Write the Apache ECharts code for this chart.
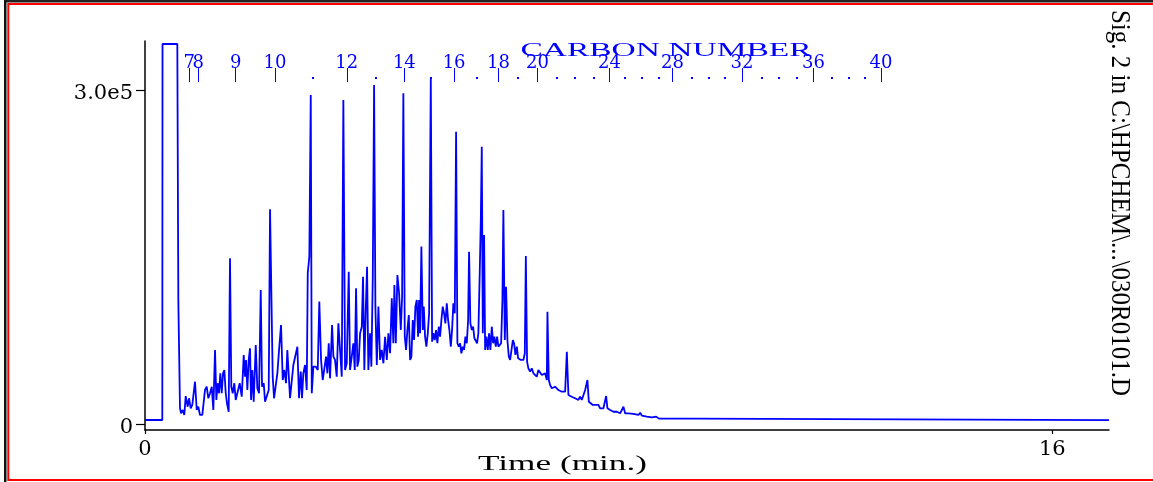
<!DOCTYPE html>
<html><head><meta charset="utf-8">
<script src="https://cdn.jsdelivr.net/npm/echarts@6/dist/echarts.min.js"></script>
<style>html,body{margin:0;padding:0;background:#fff}#c{width:1153px;height:482px}</style>
</head><body><div id="c"></div><script>
// Retention time (min)
const timeMin = [
  0, 0.305, 0.309, 0.570, 0.588, 0.617,
  0.635, 0.665, 0.693, 0.718, 0.753, 0.776, 0.806, 0.834, 0.882, 0.912,
  0.940, 0.970, 1.011, 1.058, 1.088, 1.117, 1.147, 1.177, 1.205, 1.235,
  1.258, 1.282, 1.305, 1.328, 1.353, 1.376, 1.399, 1.424, 1.446, 1.476,
  1.499, 1.522, 1.547, 1.575, 1.600, 1.635, 1.670, 1.706, 1.741, 1.764,
  1.782, 1.805, 1.829, 1.852, 1.870, 1.893, 1.917, 1.953, 1.981, 2.011,
  2.041, 2.064, 2.094, 2.117, 2.152, 2.182, 2.205,
  2.252, 2.276, 2.311, 2.334, 2.364, 2.399, 2.429, 2.457, 2.487, 2.510,
  2.535, 2.558, 2.593, 2.616, 2.651, 2.687, 2.716, 2.747, 2.769, 2.792,
  2.822, 2.852, 2.870, 2.898, 2.923, 2.941, 2.969, 3.011, 3.046, 3.074,
  3.105, 3.134, 3.163, 3.193, 3.216, 3.240, 3.263, 3.299, 3.322, 3.351,
  3.381, 3.410, 3.440, 3.470, 3.498, 3.528, 3.558, 3.593, 3.616, 3.646,
  3.674, 3.699, 3.722, 3.745, 3.770, 3.793, 3.823, 3.845, 3.868, 3.893,
  3.916, 3.939, 3.969, 3.992, 4.017, 4.040, 4.063, 4.088, 4.116, 4.146,
  4.175, 4.204, 4.234, 4.264, 4.292, 4.322, 4.352, 4.380, 4.398, 4.423,
  4.451, 4.481, 4.511, 4.534, 4.556,
  4.581, 4.604, 4.627, 4.652, 4.675, 4.698, 4.722, 4.745, 4.768, 4.793,
  4.816, 4.833, 4.851, 4.874, 4.899, 4.916, 4.939, 4.962, 4.987, 5.010,
  5.040, 5.063, 5.086, 5.110, 5.133, 5.156, 5.181, 5.204, 5.227, 5.251,
  5.274, 5.297, 5.322, 5.345, 5.368, 5.393, 5.415, 5.438, 5.463, 5.486,
  5.509, 5.534, 5.557, 5.579, 5.604, 5.627, 5.650, 5.675, 5.698, 5.715,
  5.738, 5.763, 5.786, 5.809, 5.834, 5.856, 5.879, 5.904, 5.922, 5.939,
  5.957, 5.980, 5.998, 6.021, 6.045, 6.068, 6.091, 6.116, 6.139, 6.161,
  6.186, 6.209, 6.232, 6.257, 6.280, 6.303, 6.320, 6.345, 6.368, 6.391,
  6.416, 6.439, 6.462, 6.487, 6.509, 6.532, 6.557, 6.580, 6.603, 6.628,
  6.650, 6.673, 6.698, 6.716, 6.738, 6.761, 6.791, 6.821, 6.850, 6.880,
  6.909, 6.937,
  6.968, 6.998, 7.026, 7.056, 7.086, 7.097, 7.121, 7.144, 7.174, 7.202,
  7.232, 7.262, 7.290, 7.321, 7.350, 7.379, 7.409, 7.439, 7.467, 7.497,
  7.527, 7.555, 7.585, 7.615, 7.643, 7.673, 7.703, 7.731, 7.762, 7.802,
  7.827, 7.862, 7.897, 7.938, 7.968, 7.996, 8.026, 8.056, 8.084, 8.114,
  8.132, 8.155, 8.203, 8.261, 8.321, 8.379, 8.409, 8.437, 8.467, 8.525,
  8.614, 8.702, 8.732, 8.762, 8.850, 8.938, 9.014, 9.037, 9.062, 9.702,
  9.732, 17.0
];
// Detector signal (thousands of counts)
const signalK = [
  3.6, 3.6, 341.3, 341.3, 109.9, 14.4,
  9.6, 12.6, 8.1, 25.1, 15.5, 23.1, 14.1, 17.1, 38.0, 12.6,
  15.5, 8.1, 8.1, 30.5, 33.5, 23.1, 27.6, 33.5, 12.6, 66.5,
  21.6, 36.6, 27.6, 45.5, 27.6, 45.5, 48.5, 27.6, 18.6, 11.0,
  148.8, 33.5, 27.6, 36.6, 21.6, 20.0, 36.6, 24.5, 62.0, 42.5,
  57.5, 30.5, 57.5, 68.0, 21.6, 48.5, 20.0, 71.0, 32.1, 27.6,
  120.4, 33.5, 36.6, 20.0, 21.6, 30.5, 192.8,
  42.5, 23.1, 23.1, 45.5, 66.5, 88.9, 39.5, 48.5, 36.6, 66.5,
  68.0, 23.1, 23.1, 53.0, 53.0, 69.4, 23.1, 47.0, 23.1, 45.5,
  53.0, 30.5, 135.4, 150.3, 295.5, 27.6, 51.5, 51.5, 48.5, 109.9,
  57.5, 39.5, 39.5, 60.5, 45.5, 72.5, 41.0, 88.9, 60.5, 57.5,
  42.5, 90.4, 91.9, 42.5, 291.0, 48.5, 54.5, 136.8, 48.5, 60.5,
  72.5, 48.5, 121.9, 51.5, 57.5, 81.5, 87.4, 132.3, 48.5, 102.4,
  141.3, 48.5, 81.5, 51.5, 132.3, 304.5, 105.4, 53.0, 105.4, 57.5,
  66.5, 54.5, 78.4, 57.5, 81.5, 63.5, 112.9, 72.5, 124.8, 72.5,
  133.8, 117.4, 84.4, 114.3, 297.0,
  78.4, 66.5, 84.4, 97.9, 57.5, 60.5, 93.4, 75.4, 105.4, 111.4,
  78.4, 111.4, 81.5, 159.3, 84.4, 105.4, 78.4, 69.4, 81.5, 99.4,
  310.5, 73.9, 81.5, 75.4, 84.4, 72.5, 87.4, 78.4, 93.4, 105.4,
  99.4, 90.4, 108.4, 93.4, 84.4, 69.4, 84.4, 108.4, 99.4, 262.5,
  72.5, 69.4, 72.5, 63.5, 69.4, 66.5, 78.4, 72.5, 93.4, 154.8,
  90.4, 84.4, 87.4, 77.0, 78.4, 72.5, 81.5, 138.3, 183.2, 249.1,
  81.5, 169.8, 66.5, 78.4, 66.5, 81.5, 66.5, 87.4, 72.5, 78.4,
  69.4, 78.4, 69.4, 69.4, 72.5, 111.4, 192.2, 75.4, 123.3, 75.4,
  60.5, 57.5, 56.0, 75.4, 72.5, 62.0, 69.4, 59.0, 57.5, 57.5,
  59.0, 57.5, 63.5, 150.9, 56.0, 50.0, 47.0, 50.0, 45.5, 47.0,
  42.5, 48.5,
  47.0, 44.0, 42.5, 45.5, 39.5, 100.9, 39.5, 35.0, 32.1, 30.5,
  33.5, 35.0, 30.5, 32.1, 29.0, 30.5, 29.0, 64.9, 26.0, 24.5,
  24.5, 26.0, 23.1, 24.5, 21.6, 24.5, 21.6, 23.1, 30.5, 39.5,
  20.0, 18.6, 17.1, 17.1, 15.5, 17.1, 14.1, 15.5, 14.1, 12.6,
  25.1, 14.1, 12.6, 11.0, 11.0, 9.6, 11.0, 15.5, 9.6, 9.6,
  9.0, 8.1, 10.1, 7.5, 6.6, 6.0, 6.6, 7.5, 4.8, 4.8,
  3.4, 3.4
];
// Carbon number marker scale (labelled)
const carbonNumbers = [7, 8, 9, 10, 12, 14, 16, 18, 20, 24, 28, 32, 36, 40];
const carbonTimes = [0.781, 0.940, 1.600, 2.293, 3.558, 4.574, 5.451, 6.232, 6.920, 8.190, 9.302, 10.526, 11.789, 12.978];
// Unlabelled carbon numbers (11,13,15,17,19,21-23,25-27,29-31,33-35,37-39)
const dotTimes = [2.951, 4.075, 5.040, 5.851, 6.574, 7.262, 7.585, 7.908, 8.467, 8.762, 9.055,
  9.644, 9.937, 10.231, 10.879, 11.171, 11.496, 12.113, 12.406, 12.701];
// Axis ticks
const yTicks = [0, 300];
const yTickLabels = ['0', '3.0e5'];
const xTicks = [0, 16];
const xTickLabels = ['0', '16'];

const seriesData = timeMin.map((t, i) => [t, signalK[i]]);
const BLUE = '#0000ff';
const tickFont = '"DejaVu Serif", "Liberation Serif", serif';
const carbonLabel = v => String(carbonNumbers[carbonTimes.indexOf(v)]);

function carbonAxis(values) {
  return {
    gridIndex: 1, type: 'value', min: 0, max: 17, position: 'top',
    splitLine: {show: false},
    axisLine: {show: false, onZero: false},
    axisTick: {customValues: values, length: 14, lineStyle: {color: BLUE, width: 1}},
    axisLabel: {customValues: values, formatter: carbonLabel,
      fontFamily: tickFont, fontSize: 18, color: BLUE, margin: 10, hideOverlap: false}
  };
}

const chart = echarts.init(document.getElementById('c'), null, {renderer: 'canvas'});
chart.setOption({
  animation: false,
  backgroundColor: '#ffffff',
  grid: [
    {left: 145, right: 44, top: 41, bottom: 52},
    {left: 145, right: 44, top: 82, height: 10}
  ],
  xAxis: [
    {
      gridIndex: 0, type: 'value', min: 0, max: 17,
      splitLine: {show: false},
      axisLine: {onZero: false, lineStyle: {color: '#000', width: 1.5}},
      axisTick: {customValues: xTicks, length: 4, lineStyle: {color: '#000', width: 1.2}},
      axisLabel: {customValues: xTicks, formatter: v => xTickLabels[xTicks.indexOf(v)],
        fontFamily: tickFont, fontSize: 21, color: '#000', margin: 9}
    },
    carbonAxis(carbonTimes.slice(1)),
    carbonAxis(carbonTimes.slice(0, 1)),
    {
      gridIndex: 1, type: 'value', min: 0, max: 17, position: 'top', offset: 3,
      splitLine: {show: false},
      axisLine: {show: false, onZero: false},
      axisTick: {customValues: dotTimes, length: 2, lineStyle: {color: BLUE, width: 2}},
      axisLabel: {show: false}
    }
  ],
  yAxis: [
    {
      gridIndex: 0, type: 'value', min: -5.4, max: 344,
      splitLine: {show: false},
      axisLine: {show: true, onZero: false, lineStyle: {color: '#000', width: 1.5}},
      axisTick: {show: true, customValues: yTicks, length: 9, lineStyle: {color: '#000', width: 1.2}},
      axisLabel: {customValues: yTicks, formatter: v => yTickLabels[yTicks.indexOf(v)],
        fontFamily: tickFont, fontSize: 21, color: '#000', margin: 12,
        verticalAlign: 'top', lineHeight: 8}
    },
    {
      gridIndex: 1, type: 'value', min: 0, max: 1, show: false
    }
  ],
  series: [{
    type: 'line', xAxisIndex: 0, yAxisIndex: 0,
    data: seriesData, showSymbol: false, symbol: 'none',
    lineStyle: {color: BLUE, width: 1.8}, sampling: null, smooth: false
  }],
  graphic: [
    {type: 'rect', shape: {x: 4, y: 0, width: 1149, height: 2.5}, style: {fill: '#222'}, silent: true},
    {type: 'rect', shape: {x: 4, y: 0, width: 2.5, height: 482}, style: {fill: '#111'}, silent: true},
    {type: 'rect', shape: {x: 8.3, y: 4, width: 1160, height: 476}, style: {fill: null, stroke: '#ff0000', lineWidth: 2}, silent: true},
    {type: 'text', x: 666, y: 51.5, scaleX: 1.86, silent: true,
      style: {text: 'CARBON NUMBER', font: '18px "Liberation Serif", serif', fill: BLUE,
        align: 'center', verticalAlign: 'middle', textAlign: 'center', textVerticalAlign: 'middle'}},
    {type: 'text', x: 562.5, y: 464, scaleX: 1.6, silent: true,
      style: {text: 'Time (min.)', font: '22px "Liberation Serif", serif', fill: '#000',
        align: 'center', verticalAlign: 'middle', textAlign: 'center', textVerticalAlign: 'middle'}},
    {type: 'text', x: 1119, y: 203, rotation: -Math.PI / 2, scaleY: 1.12, silent: true,
      style: {text: 'Sig. 2 in C:\\HPCHEM\\...\\030R0101.D', font: '25px "Liberation Serif", serif', fill: '#000',
        align: 'center', verticalAlign: 'middle', textAlign: 'center', textVerticalAlign: 'middle'}}
  ]
});
</script></body></html>
